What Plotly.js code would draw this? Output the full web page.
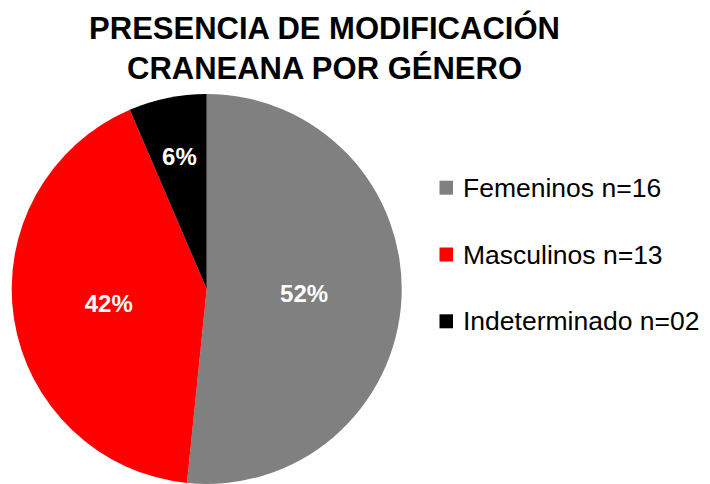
<!DOCTYPE html>
<html>
<head>
<meta charset="utf-8">
<script src="https://cdn.plot.ly/plotly-3.0.1.min.js"></script>
<style>html,body{margin:0;padding:0;background:#fff;}#chart{width:710px;height:484px;}</style>
</head>
<body>
<div id="chart"></div>
<script>
var labels = ["Femeninos", "Masculinos", "Indeterminado"];
var counts = [16, 13, 2];
var countLabels = ["n=16", "n=13", "n=02"];
var colors = ["#808080", "#FF0000", "#000000"];
var chartTitle = "PRESENCIA DE MODIFICACIÓN<br>CRANEANA POR GÉNERO";

var FONT = "Arial, 'Liberation Sans', sans-serif";
var PCT = "%{percent:.0%}";

var textFont = {family: FONT, size: 24, color: "#FFFFFF", weight: "bold"};

// main pie (labels of the two big slices)
var trace = {
  type: "pie",
  labels: labels,
  values: counts,
  sort: false,
  direction: "clockwise",
  rotation: 0,
  marker: {colors: colors, line: {width: 0}},
  texttemplate: [PCT, PCT, ""],
  textposition: "inside",
  insidetextorientation: "horizontal",
  textfont: textFont,
  hoverinfo: "label+value+percent",
  showlegend: false,
  domain: {x: [0.0165, 0.5658], y: [0, 0.806]}
};

// transparent overlay pie of the same data, slightly smaller, carrying the small slice's label
var cx = 206.7, cyB = 195, r2 = 163;
var overlay = {
  type: "pie",
  labels: labels,
  values: counts,
  sort: false,
  direction: "clockwise",
  rotation: 0,
  marker: {colors: ["rgba(0,0,0,0)", "rgba(0,0,0,0)", "rgba(0,0,0,0)"], line: {width: 0}},
  texttemplate: ["", "", PCT],
  textposition: "inside",
  insidetextorientation: "horizontal",
  textfont: textFont,
  hoverinfo: "skip",
  showlegend: false,
  domain: {x: [(cx - r2) / 710, (cx + r2) / 710], y: [(cyB - r2) / 484, (cyB + r2) / 484]}
};

// Legend drawn as shapes + annotations built from the data arrays
var legendX = 460.5 / 710;
var legendY0 = 187.7, legendGap = 66.8;
var shapes = [], annotations = [];
labels.forEach(function (lab, i) {
  var cy = legendY0 + i * legendGap;
  shapes.push({
    type: "rect", xref: "paper", yref: "paper",
    x0: 439.5 / 710, x1: 453 / 710,
    y0: 1 - (cy + 7) / 484, y1: 1 - (cy - 7) / 484,
    fillcolor: colors[i], line: {width: 0}
  });
  annotations.push({
    xref: "paper", yref: "paper",
    x: legendX, y: 1 - cy / 484,
    xanchor: "left", yanchor: "middle",
    text: lab + " " + countLabels[i],
    showarrow: false,
    font: {family: FONT, size: 26.5, color: "#000000"}
  });
});

var layout = {
  width: 710, height: 484,
  margin: {l: 0, r: 0, t: 0, b: 0},
  paper_bgcolor: "#FFFFFF",
  title: {
    text: chartTitle,
    font: {family: FONT, size: 31, color: "#000000", weight: "bold"},
    x: 324.5 / 710, xanchor: "center",
    y: 1 - 39 / 484, yanchor: "middle",
    xref: "paper", yref: "container"
  },
  shapes: shapes,
  annotations: annotations
};

Plotly.newPlot("chart", [trace, overlay], layout, {displayModeBar: false, staticPlot: true});
</script>
</body>
</html>
